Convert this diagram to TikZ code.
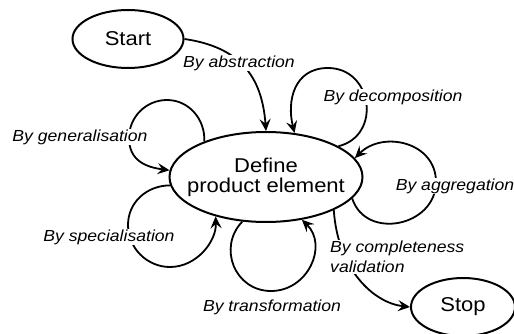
\documentclass[tikz,border=0pt]{standalone}
\usepackage{fontspec}
\setmainfont{Liberation Sans}[FakeStretch=1.1]
\usetikzlibrary{arrows.meta,shapes.geometric}
\begin{document}
\begin{tikzpicture}[x=1pt,y=1pt,
  state/.style={draw, ellipse, line width=2pt, inner sep=0pt, font=\fontsize{20}{20}\selectfont},
  conn/.style={line width=1.8pt, -{Stealth[length=12pt,width=11pt,inset=4.5pt]}},
  lab/.style={font=\fontsize{16}{20}\selectfont\itshape, fill=white, inner sep=1pt, align=left}]
\useasboundingbox (0,0) rectangle (514,333);
% states
\node[state, minimum width=193pt, minimum height=90pt] (def) at (266,156) {};
\node[font=\fontsize{20}{20}\selectfont, align=center] (deftext) at (def.center) {Define\\product element};
\node[state, minimum width=111pt, minimum height=58pt] (start) at (128,294) {Start};
\node[state, minimum width=104pt, minimum height=58pt] (stop) at (463,26) {Stop};
% waypoints
\coordinate (decT) at (328,265);
\coordinate (aggR) at (436,151);
\coordinate (genT) at (167,233);
\coordinate (genL) at (129,195);
\coordinate (speL) at (128,108);
\coordinate (speB) at (170,66);
\coordinate (traB) at (271,42);
% abstraction
\draw[conn] (start.east) .. controls +(55,-8) and +(-4,55) .. (def.north);
\node[lab] (labs) at (239,270) {By abstraction};
% decomposition
\draw[conn] (def.23) .. controls +(43.5,10.8) and +(44.8,0) .. (decT) .. controls +(-34,0) and +(-8,32) .. (def.57);
\node[lab] (ldec) at (393,236) {By decomposition};
% aggregation
\draw[conn] (def.-14) .. controls +(13.7,-42.2) and +(0,-44.4) .. (aggR) .. controls +(0,39.9) and +(28,28) .. (def.12);
\node[lab] (lagg) at (455,147) {By aggregation};
% generalisation
\draw[conn] (def.150) .. controls +(1,22) and +(22,0) .. (genT) .. controls +(-21,0) and +(0,21) .. (genL) .. controls +(0,-23) and +(-23,3) .. (def.176);
\node[lab] (lgen) at (80,196) {By generalisation};
% specialisation
\draw[conn] (def.185) .. controls +(-23,0) and +(0,23) .. (speL) .. controls +(0,-23) and +(-23,0) .. (speB) .. controls +(26.6,0) and +(1,-25) .. (def.218);
\node[lab] (lspe) at (109,96) {By specialisation};
% transformation
\draw[conn] (def.242) .. controls +(-25,-26) and +(-36,0) .. (traB) .. controls +(37,0) and +(26.5,-25.6) .. (def.310);
\node[lab] (ltra) at (272,26) {By transformation};
% completeness
\draw[conn] (def.-26) .. controls +(4,-60) and +(-36,4) .. (stop.west);
\node[lab, anchor=west] (lcom) at (329,76) {By completeness\\validation};
\end{tikzpicture}
\end{document}
